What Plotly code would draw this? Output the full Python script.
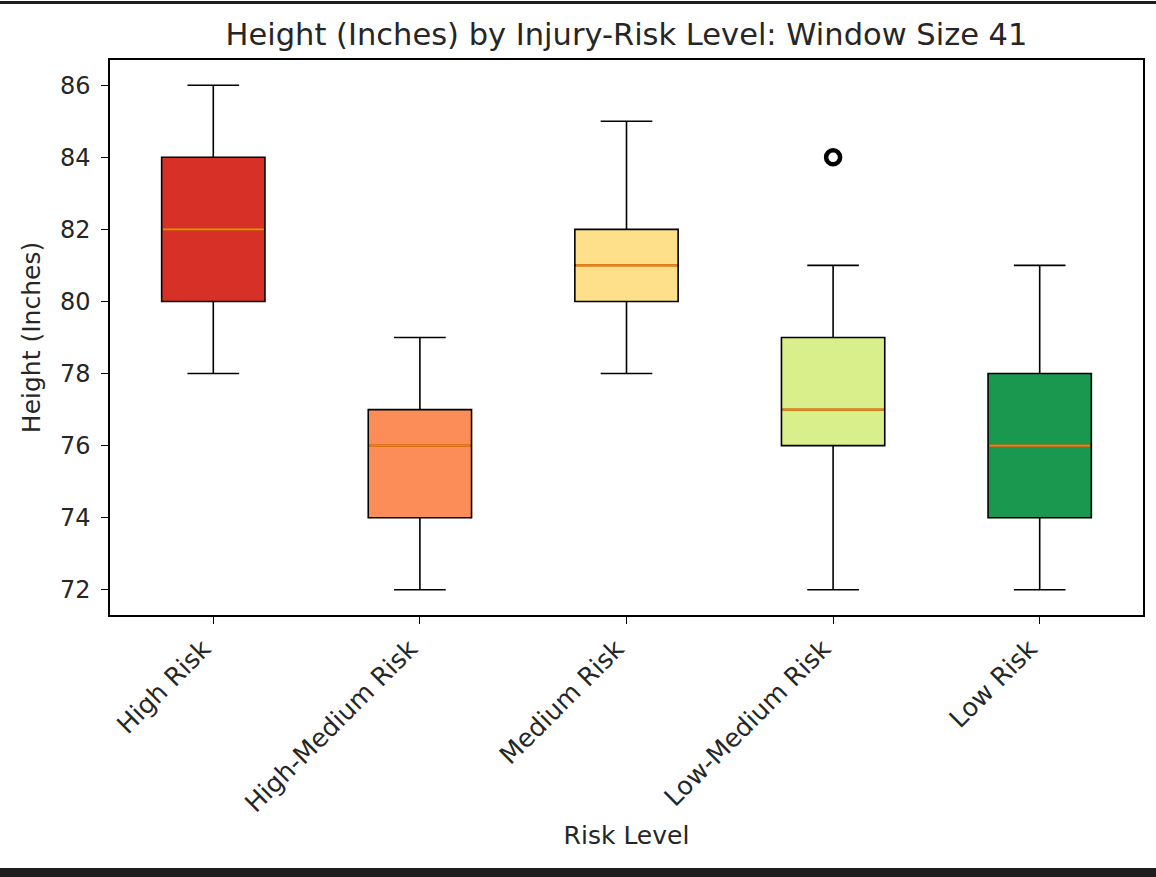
import plotly.graph_objects as go

# Summary statistics of height (inches) per injury-risk group
categories = ["High Risk", "High-Medium Risk", "Medium Risk", "Low-Medium Risk", "Low Risk"]
lower_whisker = [78, 72, 78, 72, 72]
q1_values = [80, 74, 80, 76, 74]
median_values = [82, 76, 81, 77, 76]
q3_values = [84, 77, 82, 79, 78]
upper_whisker = [86, 79, 85, 81, 81]
outlier_groups = ["Low-Medium Risk"]
outlier_values = [84]
box_colors = ["#d73027", "#fc8d59", "#fee08b", "#d9ef8b", "#1a9850"]

FONT = "DejaVu Sans, sans-serif"
TEXT_COLOR = "#262626"
BOX_WIDTH = 0.5

positions = list(range(1, len(categories) + 1))
fig = go.Figure()

for pos, name, lo, q1, med, q3, hi, color in zip(
    positions, categories, lower_whisker, q1_values, median_values,
    q3_values, upper_whisker, box_colors
):
    fig.add_trace(go.Box(
        x=[pos], q1=[q1], median=[med], q3=[q3],
        lowerfence=[lo], upperfence=[hi],
        width=BOX_WIDTH, whiskerwidth=0.5,
        fillcolor=color, line=dict(color="black", width=1.6),
        boxpoints=False, name=name, showlegend=False, hoverinfo="skip",
    ))
    # median line drawn on top of the box
    fig.add_trace(go.Scatter(
        x=[pos - BOX_WIDTH / 2 + 0.005, pos + BOX_WIDTH / 2 - 0.005], y=[med, med],
        mode="lines", line=dict(color="#ff7f0e", width=2.2),
        showlegend=False, hoverinfo="skip",
    ))

# flier points
fig.add_trace(go.Scatter(
    x=[positions[categories.index(g)] for g in outlier_groups], y=outlier_values,
    mode="markers",
    marker=dict(symbol="circle-open", size=14, color="black", line=dict(width=4.5, color="black")),
    showlegend=False, hoverinfo="skip",
))

fig.update_layout(
    width=1156, height=877,
    margin=dict(l=110, r=13, t=60, b=262),
    paper_bgcolor="white", plot_bgcolor="white",
    font=dict(family=FONT, size=24, color=TEXT_COLOR),
    title=dict(text="Height (Inches) by Injury-Risk Level: Window Size 41",
               x=0.5, xref="paper", xanchor="center", y=1 - 34 / 877, yanchor="middle",
               font=dict(size=30.5, family=FONT, color=TEXT_COLOR)),
    shapes=[
        dict(type="rect", xref="paper", yref="paper",
             x0=-110 / 1033, x1=1 + 13 / 1033, y0=1 + 56 / 555, y1=1 + 59 / 555,
             fillcolor="#1e1e1e", line=dict(width=0), layer="above"),
        dict(type="rect", xref="paper", yref="paper",
             x0=-110 / 1033, x1=1 + 13 / 1033, y0=-262 / 555, y1=-253 / 555,
             fillcolor="#1e1e1e", line=dict(width=0), layer="above"),
    ],
)

fig.update_xaxes(
    range=[0.5, len(categories) + 0.5],
    tickmode="array", tickvals=positions, ticktext=categories,
    tickangle=-45, ticks="outside", ticklen=7, tickwidth=1.3, tickcolor="black",
    tickfont=dict(size=25.5), ticklabelshift=-10,
    showline=True, linecolor="black", linewidth=1.5, mirror=True,
    showgrid=False, zeroline=False,
    title=dict(text="Risk Level", font=dict(size=25, family=FONT), standoff=9),
)
fig.update_yaxes(
    range=[71.3, 86.7],
    tickmode="array", tickvals=[72, 74, 76, 78, 80, 82, 84, 86],
    ticks="outside", ticklen=7, tickwidth=1.3, tickcolor="black",
    tickfont=dict(size=24), ticklabelstandoff=6,
    showline=True, linecolor="black", linewidth=1.5, mirror=True,
    showgrid=False, zeroline=False,
    title=dict(text="Height (Inches)", font=dict(size=25, family=FONT), standoff=12),
)

fig.write_html("out.html")
